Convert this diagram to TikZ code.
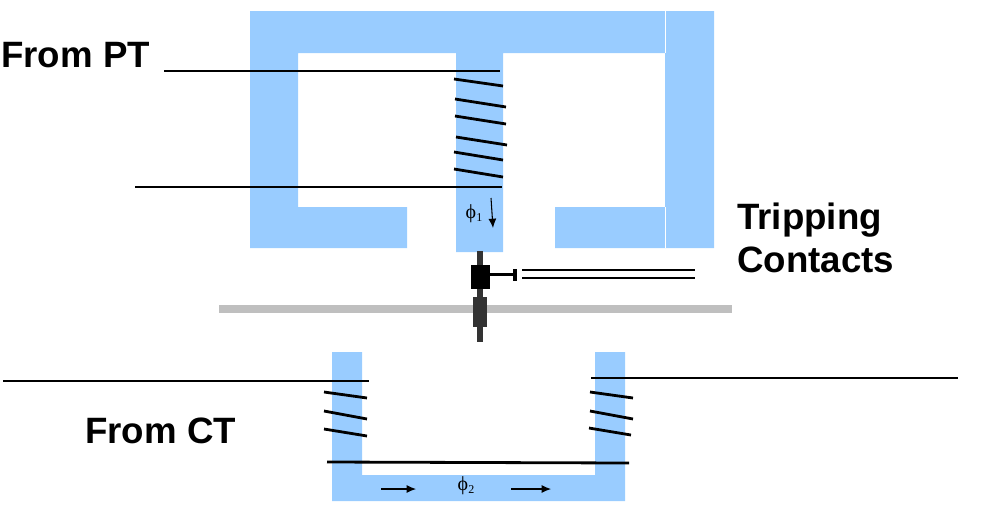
\documentclass[tikz,border=0pt]{standalone}
\usepackage{fontspec}
\setmainfont{Liberation Sans}
\newfontfamily\phifont{Liberation Serif}
\usetikzlibrary{arrows.meta}
\definecolor{corecol}{HTML}{99CCFF}
\definecolor{barcol}{HTML}{BFBFBF}
\definecolor{rodcol}{HTML}{333333}
\tikzset{
  wire/.style={draw=black, line width=2.1pt},
  lead/.style={draw=black, line width=1.1pt},
  flux/.style={draw=black, line width=0.8pt, -{Latex[length=7pt, width=6pt]}},
  lbl/.style={font=\bfseries\fontsize{27.5}{32}\selectfont, inner sep=0pt, align=left},
  philbl/.style={font=\phifont\fontsize{15}{17}\selectfont, inner sep=0pt}
}

\begin{document}
\begin{tikzpicture}[x=0.75pt, y=-0.75pt]
    \useasboundingbox (0,0) rectangle (993,522);

    % upper core
    \fill[corecol] (250,11) -- (714,11) -- (714,248) -- (555,248) -- (555,207) -- (665,207)
      -- (665,53) -- (503,53) -- (503,252) -- (456,252) -- (456,53) -- (298,53) -- (298,207)
      -- (407,207) -- (407,248) -- (250,248) -- cycle;
    \draw[white, line width=0.6pt] (665,11) -- (665,53);
    \draw[white, line width=0.6pt] (665,207) -- (665,248);

    % lower core
    \fill[corecol] (332,352) -- (362,352) -- (362,475) -- (595,475) -- (595,352) -- (625,352)
      -- (625,501) -- (332,501) -- cycle;

    % restraining bar and moving parts
    \fill[barcol] (219,305) rectangle (732,313);
    \fill[rodcol] (477,251) rectangle (483,342);
    \fill[black] (471,265) rectangle (490,289);
    \fill[rodcol] (473,297) rectangle (487,327);
    \fill[black] (490,272.5) rectangle (513,275.5);
    \fill[black] (513,269) rectangle (517,281);
    \draw[lead] (522,270) -- (695,270);
    \draw[lead] (522,278) -- (695,278);

    % potential coil
    \draw[wire] (164,71) -- (500,71);
    \draw[wire] (135,187) -- (502,187);
    \foreach \xa/\ya/\xb/\yb in {454/79/503/86, 455/99/506/107, 455/116/506/124,
        456/137/507/145, 454/152/503/160, 454/169/503/177}
      \draw[wire] (\xa,\ya) -- (\xb,\yb);

    % current coils
    \draw[wire] (3,381) -- (369,381);
    \draw[wire] (591,378) -- (958,378);
    \draw[wire] (327,462) -- (629,463);
    \foreach \xa/\ya/\xb/\yb in {324/392/367/398, 324/411/367/419, 324/429/367/436,
        590/392/633/398, 590/411/633/419, 589/428/631/435}
      \draw[wire] (\xa,\ya) -- (\xb,\yb);

    % flux
    \node[philbl] (phione) at (474,214) {ϕ\raisebox{-0.3ex}{\fontsize{9}{10}\selectfont 1}};
    \node[philbl] (phitwo) at (466,486) {ϕ\raisebox{-0.3ex}{\fontsize{9}{10}\selectfont 2}};
    \draw[flux] (491,198) -- (493,228);
    \draw[flux] (381,489) -- (416,489);
    \draw[flux] (511,489) -- (551,489);

    % labels
    \node[lbl, anchor=west] (pt) at (1,55) {From PT};
    \node[lbl, anchor=west] (ct) at (85,431) {From CT};
    \node[lbl, anchor=north west] (trip) at (737,203) {Tripping\\Contacts};

  \end{tikzpicture}
\end{document}
